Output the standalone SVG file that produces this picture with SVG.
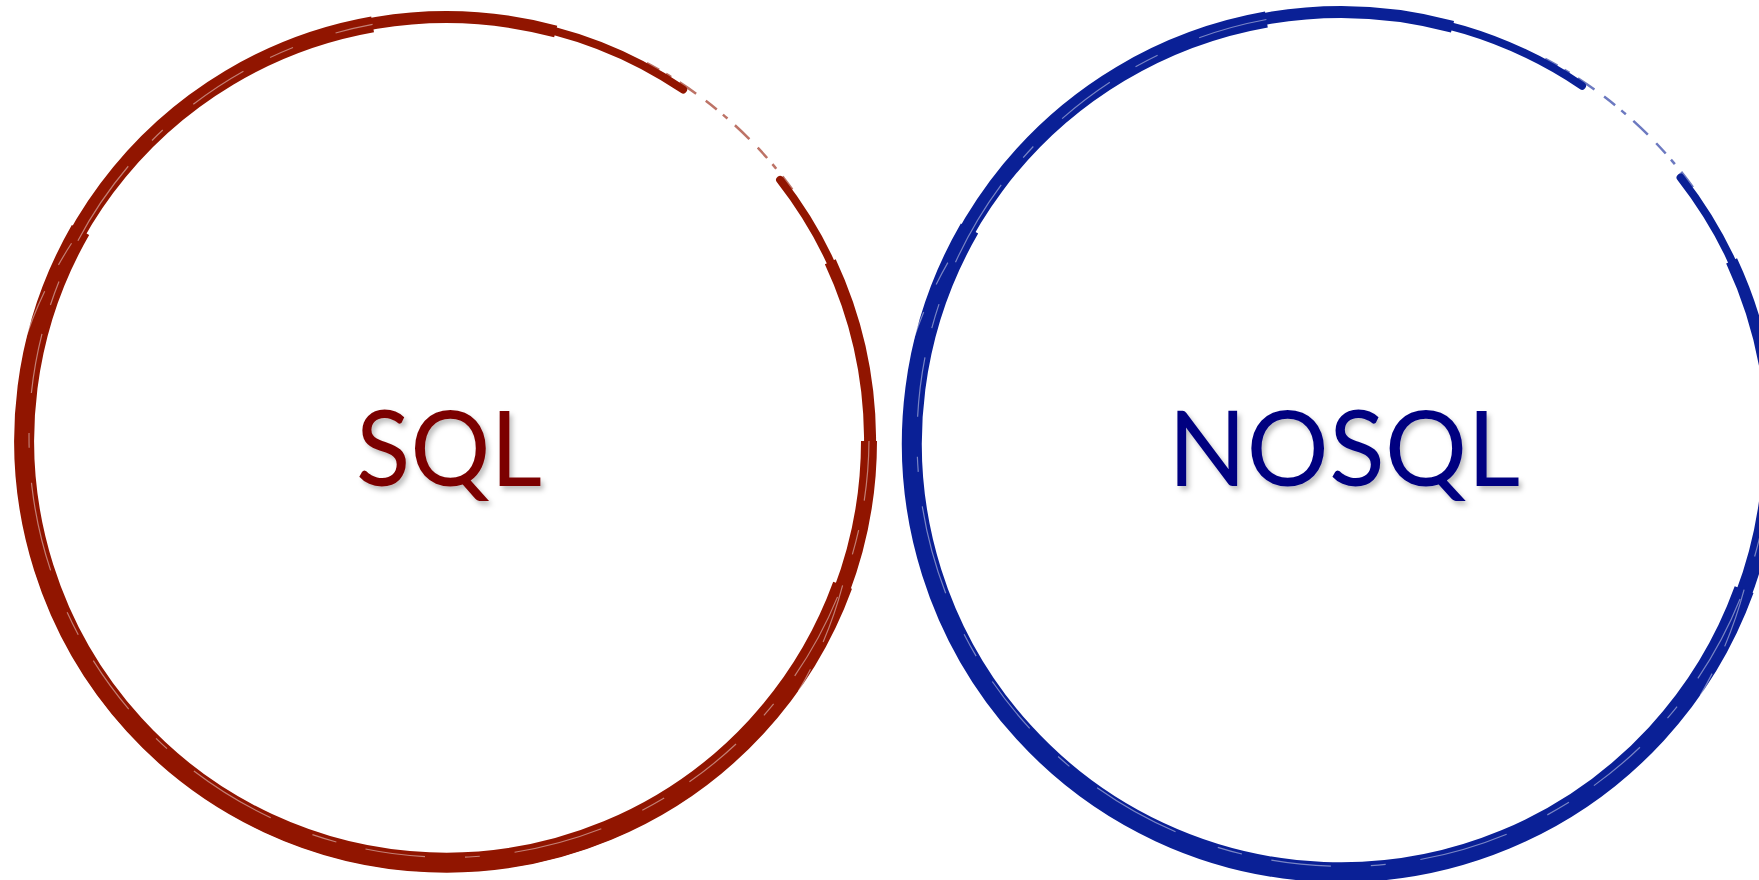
<svg xmlns="http://www.w3.org/2000/svg" width="1759" height="880" viewBox="0 0 1759 880">
  <defs>
    <filter id="shadow" x="-10%" y="-10%" width="130%" height="140%">
      <feDropShadow dx="3" dy="4" stdDeviation="2.5" flood-color="#000" flood-opacity="0.25"/>
    </filter>
    <style>
      .red path { fill: none; stroke: #911500; stroke-linecap: butt; }
      .blue path { fill: none; stroke: #0a2096; stroke-linecap: butt; }
      path.tip { stroke-linecap: round; }
      path.streak { stroke: #ffffff !important; stroke-width: 1.2; opacity: 0.45; stroke-dasharray: 60 30 25 45 90 35 15 40; }
      path.wisp { stroke-width: 2.5; opacity: 0.6; stroke-dasharray: 14 8 6 10 20 12; }
      .label { font-family: Lato, "Open Sans", "Liberation Sans", sans-serif; font-size: 104px; text-anchor: middle; filter: url(#shadow); }
    </style>
  </defs>
  <rect width="1759" height="880" fill="#ffffff"/>

  <g id="sql" class="red">
    <path class="tip" d="M780.1 179.9 A424 424 0 1 1 683.1 89.5" stroke-width="8"/>
    <path d="M830.3 261.8 A424 424 0 1 1 555.7 31.5" stroke-width="12"/>
    <path d="M869 441 A423 423 0 1 1 372.6 24.4" stroke-width="16"/>
    <path d="M842.6 585.3 A422 422 0 1 1 80.5 230" stroke-width="20"/>
    <path class="wisp" d="M646.9 63.1 A428 428 0 0 1 792.3 189.4"/>
    <path class="streak" d="M869 441 A420 420 0 1 1 372.6 24.4"/>
    <path class="streak" d="M842.6 585.3 A427 427 0 1 1 80.5 230"/>
    <text class="label" x="449" y="486" fill="#7b0000" textLength="186" lengthAdjust="spacingAndGlyphs">SQL</text>
  </g>

  <g id="nosql" class="blue">
    <path class="tip" d="M1680.6 177.6 A431 431 0 1 1 1582.0 85.7" stroke-width="8"/>
    <path d="M1731.6 260.9 A431 431 0 1 1 1452.5 26.7" stroke-width="12"/>
    <path d="M1771 443 A430 430 0 1 1 1266.4 19.5" stroke-width="16"/>
    <path d="M1744.1 589.7 A429 429 0 1 1 969.5 228.5" stroke-width="20"/>
    <path class="wisp" d="M1545.2 58.9 A435 435 0 0 1 1692.9 187.3"/>
    <path class="streak" d="M1771 443 A427 427 0 1 1 1266.4 19.5"/>
    <path class="streak" d="M1744.1 589.7 A434 434 0 1 1 969.5 228.5"/>
    <text class="label" x="1344" y="486" fill="#000080" textLength="352" lengthAdjust="spacingAndGlyphs">NOSQL</text>
  </g>

  <g id="connectors"></g>
</svg>
